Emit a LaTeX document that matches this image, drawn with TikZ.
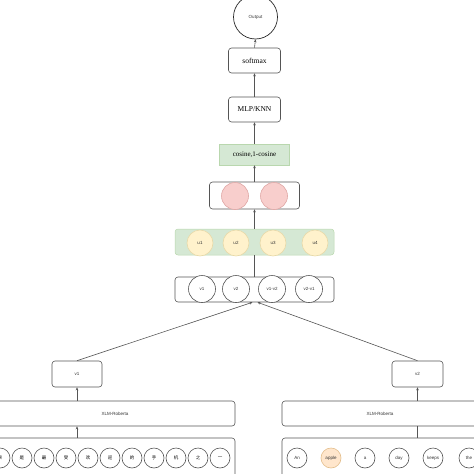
\documentclass[tikz,border=0pt]{standalone}
\usepackage{fontspec}
\setmainfont{Liberation Serif}
\newfontfamily\sansf{Liberation Sans}
\newfontfamily\cjk{Noto Sans CJK SC}
\usetikzlibrary{arrows.meta}
\definecolor{lgreen}{HTML}{D5E8D4}
\definecolor{dgreen}{HTML}{B9D7AE}
\definecolor{lyellow}{HTML}{FFF2CC}
\definecolor{dyellow}{HTML}{E8D9A8}
\definecolor{lpink}{HTML}{F8CECC}
\definecolor{dpink}{HTML}{E0A8A6}
\definecolor{lorange}{HTML}{FFE6CC}
\definecolor{dorange}{HTML}{E3BE8C}
\definecolor{edge}{HTML}{555555}
\begin{document}
\begin{tikzpicture}[x=1pt,y=-1pt,
  box/.style={draw=edge, rounded corners=3pt, fill=white, line width=0.6pt, inner sep=0pt},
  serif/.style={font=\fontsize{7.5}{8}\selectfont},
  small/.style={font=\sansf\fontsize{4.5}{5}\selectfont, text=black!80},
  circ/.style={circle, draw=edge, line width=0.6pt, inner sep=0pt, minimum size=27pt, fill=white},
  tok/.style={circle, draw=edge, line width=0.6pt, inner sep=0pt, minimum size=20pt, fill=white},
  arr/.style={draw=edge, line width=0.6pt, -{Stealth[length=3pt,width=2.6pt]}},
  ln/.style={draw=edge, line width=0.6pt}
]
\useasboundingbox (0,0) rectangle (474,474);
\clip (0,0) rectangle (474,474);

% top
\node[circle, draw=black!85, line width=0.7pt, minimum size=44pt, inner sep=0pt, small] (out) at (255.5,17) {Output};
\node[box, serif, minimum width=52pt, minimum height=25pt] (soft) at (254.5,60.5) {softmax};
\node[box, serif, minimum width=52pt, minimum height=25pt] (mlp) at (254.5,109.5) {MLP/KNN};
\node[draw=dgreen, fill=lgreen, line width=0.5pt, inner sep=0pt, serif, font=\fontsize{7}{8}\selectfont, minimum width=70pt, minimum height=21pt] (cos) at (254.5,154.5) {cosine,1-cosine};

% pink row
\node[box, minimum width=90pt, minimum height=27pt] (prow) at (254.5,195.5) {};
\node[circ, fill=lpink, draw=dpink] (p1) at (235,196) {};
\node[circ, fill=lpink, draw=dpink] (p2) at (274,196) {};

% u row
\node[draw=dgreen, fill=lgreen, rounded corners=3pt, line width=0.5pt, minimum width=159pt, minimum height=26pt] (urow) at (254.5,242) {};
\node[circ, fill=lyellow, draw=dyellow, minimum size=26pt, small] (u1) at (200,243) {u1};
\node[circ, fill=lyellow, draw=dyellow, minimum size=26pt, small] (u2) at (236,243) {u2};
\node[circ, fill=lyellow, draw=dyellow, minimum size=26pt, small] (u3) at (273,243) {u3};
\node[circ, fill=lyellow, draw=dyellow, minimum size=26pt, small] (u4) at (315,243) {u4};

% v row
\node[box, minimum width=159pt, minimum height=25pt] (vrow) at (254.5,289.5) {};
\node[circ, small] (c1) at (202,289) {v1};
\node[circ, small] (c2) at (236,289) {v2};
\node[circ, small] (c3) at (272,289) {v1-v2};
\node[circ, small] (c4) at (309,289) {v2-v1};

% v boxes
\node[box, small, minimum width=50pt, minimum height=26pt] (v1b) at (77,374) {v1};
\node[box, small, minimum width=51pt, minimum height=26pt] (v2b) at (417.5,374) {v2};

% encoders
\node[box, small, minimum width=240pt, minimum height=25pt] (xl) at (115,413.5) {XLM-Roberta};
\node[box, small, minimum width=196pt, minimum height=25pt] (xr) at (380,413.5) {XLM-Roberta};

% token rows
\node[box, minimum width=240pt, minimum height=44pt] (tl) at (115,460) {};
\node[box, minimum width=196pt, minimum height=44pt] (tr) at (380,460) {};

\foreach \ch [count=\i from 0] in {果,是,最,受,欢,迎,的,手,机,之,一}{
  \node[tok, font=\cjk\fontsize{4.5}{5}\selectfont] (z\i) at (0+22*\i,458) {\ch};
}
\node[tok, small] (e1) at (297,458) {An};
\node[tok, small, fill=lorange, draw=dorange] (e2) at (331,458) {apple};
\node[tok, small] (e3) at (365,458) {a};
\node[tok, small] (e4) at (399,458) {day};
\node[tok, small] (e5) at (433,458) {keeps};
\node[tok, small] (e6) at (469,458) {the};

% connectors
\draw[arr] (soft.north) -- (out.south);
\draw[arr] (mlp.north) -- (soft.south);
\draw[arr] (cos.north) -- (mlp.south);
\draw[arr] (prow.north) -- (cos.south);
\draw[arr] (urow.north) -- (prow.south);
\draw[ln] (vrow.north) -- (urow.south);
\draw[arr] (v1b.north) -- ([xshift=-2pt]vrow.south);
\draw[arr] (v2b.north) -- ([xshift=3pt]vrow.south);
\draw[arr] (xl.north -| v1b.south) -- (v1b.south);
\draw[arr] (xr.north -| v2b.south) -- (v2b.south);
\draw[arr] (tl.north -| v1b.south) -- (xl.south -| v1b.south);
\draw[ln] (tr.north -| v2b.south) -- (xr.south -| v2b.south);
\end{tikzpicture}
\end{document}
